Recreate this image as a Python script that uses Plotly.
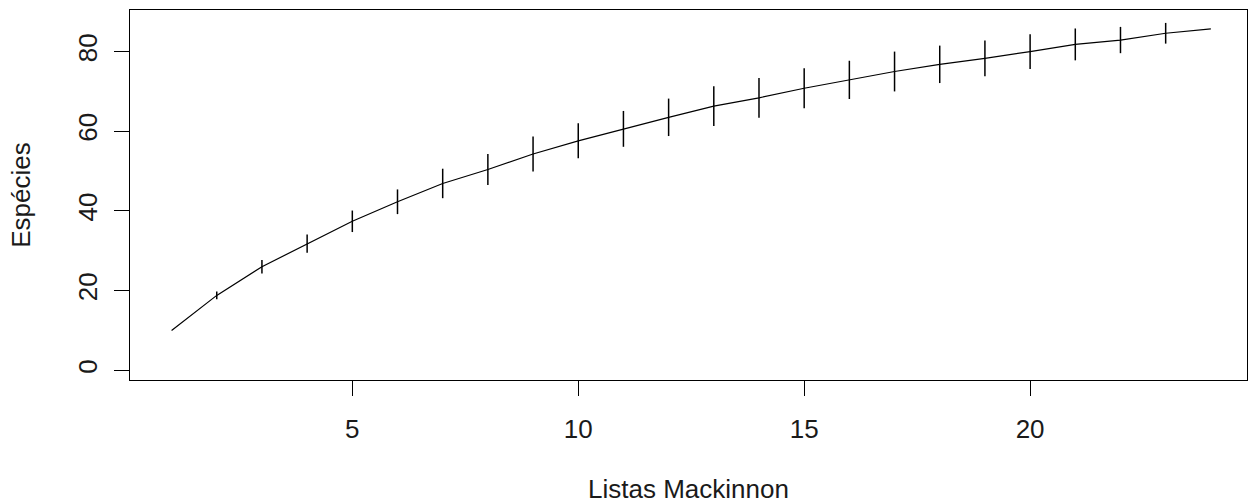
import plotly.graph_objects as go

# Data
listas = list(range(1, 25))
especies = [10.0, 18.8, 26.0, 31.8, 37.4, 42.3, 46.9, 50.4, 54.3, 57.6, 60.6, 63.5,
            66.3, 68.4, 70.8, 72.9, 75.0, 76.8, 78.3, 80.0, 81.8, 82.9, 84.6, 85.7]
ci_half = [0.0, 1.0, 1.7, 2.3, 2.7, 3.1, 3.7, 3.9, 4.4, 4.4, 4.5, 4.7,
           5.0, 5.0, 5.0, 4.8, 5.0, 4.7, 4.5, 4.35, 4.0, 3.3, 2.6, 0.0]
x_ticks = [5, 10, 15, 20]
y_ticks = [0, 20, 40, 60, 80]

FONT = "Liberation Sans, Arial, sans-serif"
TXT = "#1a1a1a"

fig = go.Figure()
fig.add_trace(go.Scatter(
    x=listas, y=especies, mode="lines",
    line=dict(color="black", width=1.2),
    error_y=dict(type="data", array=ci_half, visible=True, width=0,
                 thickness=1.5, color="black"),
    showlegend=False, hoverinfo="skip",
))

fig.update_layout(
    width=1250, height=504,
    margin=dict(l=130, r=3, t=10, b=124),
    paper_bgcolor="white", plot_bgcolor="white",
    font=dict(family=FONT, size=26, color=TXT),
    xaxis=dict(
        range=[0.08, 24.8], tickvals=x_ticks, ticktext=[str(v) for v in x_ticks],
        showgrid=False, zeroline=False, automargin=False,
        showline=True, mirror=True, linecolor="black", linewidth=1.3,
        ticks="outside", ticklen=15, tickwidth=1.3, tickcolor="black",
        ticklabelstandoff=11, tickfont=dict(size=26),
        title=dict(text="Listas Mackinnon", standoff=42,
                   font=dict(size=26, family=FONT, color=TXT)),
    ),
    yaxis=dict(
        range=[-2.44, 90.44], tickvals=y_ticks, ticktext=[str(v) for v in y_ticks],
        showgrid=False, zeroline=False, automargin=False,
        showline=True, mirror=True, linecolor="black", linewidth=1.3,
        ticks="outside", ticklen=15, tickwidth=1.3, tickcolor="black",
        tickangle=-90, ticklabelstandoff=6, tickfont=dict(size=26),
        title=dict(text="Espécies", standoff=35,
                   font=dict(size=26, family=FONT, color=TXT)),
    ),
)

fig.write_html("out.html", config={"displayModeBar": False},
               post_script="document.body.style.margin='0';")
